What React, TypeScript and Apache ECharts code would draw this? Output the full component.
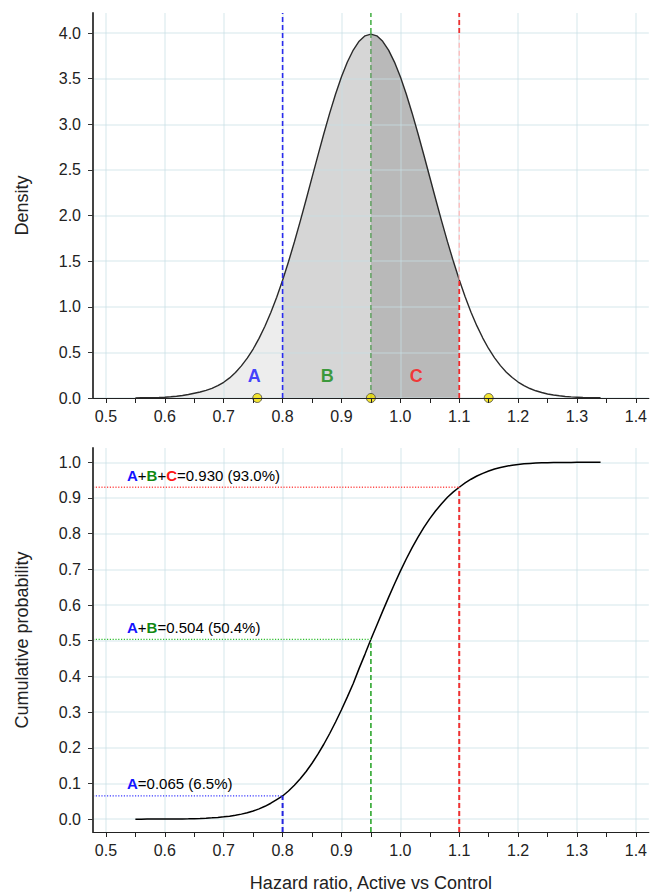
import React, { useEffect, useRef } from "react";
import * as echarts from "echarts";

// ---------- data ----------
const hrValues = [
  0.55, 0.56, 0.57, 0.58, 0.59, 0.6, 0.61, 0.62, 0.63, 0.64,
  0.65, 0.66, 0.67, 0.68, 0.69, 0.7, 0.71, 0.72, 0.73, 0.74,
  0.75, 0.76, 0.77, 0.78, 0.79, 0.8, 0.81, 0.82, 0.83, 0.84,
  0.85, 0.86, 0.87, 0.88, 0.89, 0.9, 0.91, 0.92, 0.93, 0.94,
  0.95, 0.96, 0.97, 0.98, 0.99, 1.0, 1.01, 1.02, 1.03, 1.04,
  1.05, 1.06, 1.07, 1.08, 1.09, 1.1, 1.11, 1.12, 1.13, 1.14,
  1.15, 1.16, 1.17, 1.18, 1.19, 1.2, 1.21, 1.22, 1.23, 1.24,
  1.25, 1.26, 1.27, 1.28, 1.29, 1.3, 1.31, 1.32, 1.33, 1.34,
];

const densityValues = [
  0.001, 0.002, 0.003, 0.004, 0.006, 0.009, 0.013, 0.019, 0.027, 0.038,
  0.052, 0.066, 0.083, 0.105, 0.135, 0.172, 0.22, 0.28, 0.352, 0.437,
  0.537, 0.653, 0.786, 0.937, 1.105, 1.29, 1.493, 1.71, 1.939, 2.176,
  2.418, 2.66, 2.897, 3.123, 3.333, 3.521, 3.683, 3.814, 3.911, 3.97,
  3.989, 3.97, 3.91, 3.813, 3.682, 3.521, 3.332, 3.122, 2.897, 2.661,
  2.42, 2.179, 1.942, 1.714, 1.498, 1.296, 1.11, 0.941, 0.79, 0.657,
  0.54, 0.44, 0.355, 0.283, 0.224, 0.175, 0.136, 0.104, 0.079, 0.06,
  0.044, 0.033, 0.024, 0.017, 0.012, 0.009, 0.006, 0.004, 0.003, 0.002,
];

const cumulativeValues = [
  0.0, 0.0, 0.0001, 0.0001, 0.0002, 0.0002, 0.0003, 0.0005, 0.0007, 0.001,
  0.0014, 0.002, 0.0027, 0.0037, 0.0049, 0.0064, 0.0084, 0.0109, 0.0141, 0.018,
  0.0229, 0.0288, 0.036, 0.0446, 0.0548, 0.065, 0.0789, 0.0949, 0.1131, 0.1337,
  0.1567, 0.1821, 0.2099, 0.24, 0.2723, 0.3066, 0.3426, 0.3801, 0.4225, 0.4625,
  0.504, 0.5435, 0.583, 0.6215, 0.659, 0.695, 0.729, 0.761, 0.7905, 0.8175,
  0.842, 0.864, 0.884, 0.902, 0.917, 0.93, 0.942, 0.9525, 0.9615, 0.969,
  0.9755, 0.981, 0.9855, 0.989, 0.9918, 0.994, 0.9956, 0.9968, 0.9977, 0.9984,
  0.9989, 0.9992, 0.9994, 0.9996, 0.9997, 0.9998, 0.9999, 0.9999, 1.0, 1.0,
];

const regionNames = ["A", "B", "C"];
const regionColors = ["#1414ff", "#128812", "#ff1414"];
const regionStart = 0.55;
const cutPoints = [0.8, 0.95, 1.1];
const cumAtCuts = [0.065, 0.504, 0.93];
const regionLabelX = [0.752, 0.876, 1.027];
const regionLabelY = 0.24;
const dotX = [0.757, 0.95, 1.15];

const xTickValues = [
  0.5, 0.55, 0.6, 0.65, 0.7, 0.75, 0.8, 0.85, 0.9, 0.95,
  1.0, 1.05, 1.1, 1.15, 1.2, 1.25, 1.3, 1.35, 1.4,
];
const xLabelValues = [0.5, 0.6, 0.7, 0.8, 0.9, 1.0, 1.1, 1.2, 1.3, 1.4];
const densityTicks = [0, 0.5, 1.0, 1.5, 2.0, 2.5, 3.0, 3.5, 4.0];
const cumTicks = [0, 0.1, 0.2, 0.3, 0.4, 0.5, 0.6, 0.7, 0.8, 0.9, 1.0];

// ---------- axis extents ----------
const X_MIN = 0.478;
const X_MAX = 1.422;
const D_MIN = 0;
const D_MAX = 4.22;
const C_MIN = -0.036;
const C_MAX = 1.04;

const FONT = "'Liberation Sans', Arial, sans-serif";
const GRID_COLOR = "rgba(200,224,228,0.38)";

function pairs(from: number, to: number, ys: number[]) {
  const out: number[][] = [];
  hrValues.forEach((x, i) => {
    if (x >= from - 1e-9 && x <= to + 1e-9) out.push([x, ys[i]]);
  });
  return out;
}

function densityAt(x: number) {
  const i = hrValues.findIndex((v) => Math.abs(v - x) < 1e-9);
  return densityValues[i];
}

function xAxisCfg(gridIndex: number, withName: boolean) {
  return {
    type: "value",
    gridIndex,
    min: X_MIN,
    max: X_MAX,
    minInterval: 0.05,
    maxInterval: 0.05,
    z: 30,
    name: withName ? "Hazard ratio, Active vs Control" : "",
    nameLocation: "middle",
    nameGap: 42,
    nameTextStyle: { fontSize: 18, color: "#222", fontFamily: FONT },
    axisLine: { show: true, onZero: false, lineStyle: { color: "#222", width: 1.2 } },
    axisTick: {
      show: true,
      length: 5,
      customValues: xTickValues,
      lineStyle: { color: "#222", width: 1 },
    },
    axisLabel: {
      customValues: xLabelValues,
      margin: 10,
      fontSize: 16,
      color: "#222",
      fontFamily: FONT,
      formatter: (v: number) =>
        Math.abs(v * 10 - Math.round(v * 10)) < 1e-6 ? v.toFixed(1) : "",
    },
    splitLine: { show: false },
  };
}

function yAxisCfg(
  gridIndex: number,
  min: number,
  max: number,
  ticks: number[],
  name: string
) {
  return {
    type: "value",
    gridIndex,
    min,
    max,
    z: 30,
    name,
    nameLocation: "middle",
    nameGap: 62,
    nameTextStyle: { fontSize: 18, color: "#222", fontFamily: FONT },
    axisLine: { show: true, onZero: false, lineStyle: { color: "#444", width: 2 } },
    axisTick: {
      show: true,
      length: 5,
      customValues: ticks,
      lineStyle: { color: "#333", width: 1 },
    },
    axisLabel: {
      customValues: ticks,
      margin: 12,
      fontSize: 16,
      color: "#222",
      fontFamily: FONT,
      formatter: (v: number) => v.toFixed(1),
    },
    splitLine: { show: false },
  };
}

function segment(
  gi: number,
  pts: number[][],
  color: string,
  dash: number[],
  width: number,
  z: number
) {
  return {
    type: "line",
    xAxisIndex: gi,
    yAxisIndex: gi,
    data: pts,
    symbol: "none",
    silent: true,
    z,
    lineStyle: { color, width, type: dash },
  };
}

function gridLines(gi: number, yTicks: number[]) {
  return {
    type: "line",
    xAxisIndex: gi,
    yAxisIndex: gi,
    data: [],
    silent: true,
    z: 3,
    markLine: {
      silent: true,
      z: 3,
      symbol: ["none", "none"],
      label: { show: false },
      lineStyle: { color: GRID_COLOR, width: 2, type: "solid" },
      emphasis: { disabled: true },
      data: [
        ...xLabelValues.map((v) => ({ xAxis: v })),
        ...yTicks.map((v) => ({ yAxis: v })),
      ],
    },
  };
}

export default function App() {
  const ref = useRef<HTMLDivElement>(null);

  useEffect(() => {
    if (!ref.current) return;
    const chart = echarts.init(ref.current, undefined, { renderer: "svg" });

    const areaFills = ["#ededed", "#d6d6d6", "#b9b9b9"];
    const bounds = [regionStart, ...cutPoints];

    const series: any[] = [];

    // ---------- top: density ----------
    series.push(gridLines(0, densityTicks));
    regionNames.forEach((_, i) => {
      series.push({
        type: "line",
        xAxisIndex: 0,
        yAxisIndex: 0,
        data: pairs(bounds[i], bounds[i + 1], densityValues),
        symbol: "none",
        silent: true,
        z: 2,
        lineStyle: { width: 0, opacity: 0 },
        areaStyle: { color: areaFills[i], opacity: 1 },
      });
    });
    series.push({
      type: "line",
      xAxisIndex: 0,
      yAxisIndex: 0,
      data: pairs(hrValues[0], hrValues[hrValues.length - 1], densityValues),
      symbol: "none",
      silent: true,
      z: 18,
      lineStyle: { color: "#2a2a2a", width: 1.4 },
    });
    const topDash = [5, 3];
    series.push(segment(0, [[cutPoints[0], D_MIN], [cutPoints[0], D_MAX]], "#2a2aee", topDash, 1.6, 20));
    series.push(segment(0, [[cutPoints[1], D_MIN], [cutPoints[1], 4.0]], "#4e9a4e", topDash, 1.3, 20));
    series.push(segment(0, [[cutPoints[1], 4.0], [cutPoints[1], D_MAX]], "#22a022", topDash, 1.3, 20));
    const dC = densityAt(cutPoints[2]);
    series.push(segment(0, [[cutPoints[2], D_MIN], [cutPoints[2], dC]], "#ee2a2a", topDash, 1.8, 20));
    series.push(segment(0, [[cutPoints[2], dC], [cutPoints[2], 4.0]], "#ffb9b9", topDash, 1.3, 20));
    series.push(segment(0, [[cutPoints[2], 4.0], [cutPoints[2], D_MAX]], "#ee3030", topDash, 1.8, 20));

    series.push({
      type: "scatter",
      xAxisIndex: 0,
      yAxisIndex: 0,
      data: dotX.map((x) => [x, 0]),
      symbol: "circle",
      symbolSize: 9,
      clip: false,
      silent: true,
      z: 22,
      itemStyle: { color: "#f2e000", borderColor: "#444", borderWidth: 1 },
    });
    series.push({
      type: "scatter",
      xAxisIndex: 0,
      yAxisIndex: 0,
      data: regionNames.map((n, i) => ({
        name: n,
        value: [regionLabelX[i], regionLabelY],
        label: { color: regionColors[i] },
      })),
      symbolSize: 0,
      clip: false,
      silent: true,
      z: 24,
      label: {
        show: true,
        position: "inside",
        formatter: (p: any) => p.name,
        fontSize: 18,
        fontWeight: "bold",
        fontFamily: FONT,
        textBorderWidth: 0,
      },
    });

    // ---------- bottom: cumulative ----------
    series.push(gridLines(1, cumTicks));
    series.push({
      type: "line",
      xAxisIndex: 1,
      yAxisIndex: 1,
      data: pairs(hrValues[0], hrValues[hrValues.length - 1], cumulativeValues),
      symbol: "none",
      silent: true,
      z: 18,
      lineStyle: { color: "#000", width: 1.5 },
    });
    const vColors = ["#2424e0", "#1fa01f", "#f03030"];
    const vWidths = [2, 1.5, 2];
    const hColors = ["#3b3bff", "#2fbf2f", "#ff5050"];
    cutPoints.forEach((x, i) => {
      series.push(segment(1, [[x, C_MIN], [x, cumAtCuts[i]]], vColors[i], [5, 3], vWidths[i], 20));
      series.push(segment(1, [[X_MIN, cumAtCuts[i]], [x, cumAtCuts[i]]], hColors[i], [1.2, 1.6], 1.3, 20));
    });

    const rich: any = {};
    regionNames.forEach((n, i) => {
      rich[n] = {
        color: regionColors[i],
        fontWeight: "bold",
        fontSize: 15,
        fontFamily: FONT,
        textBorderWidth: 0,
      };
    });
    series.push({
      type: "scatter",
      xAxisIndex: 1,
      yAxisIndex: 1,
      data: cumAtCuts.map((v, i) => ({
        name:
          regionNames
            .slice(0, i + 1)
            .map((n) => `{${n}|${n}}`)
            .join("+") + `=${v.toFixed(3)} (${(v * 100).toFixed(1)}%)`,
        value: [X_MIN, v],
      })),
      symbolSize: 0,
      clip: false,
      silent: true,
      z: 24,
      label: {
        show: true,
        position: "right",
        distance: 0,
        offset: [34, -12],
        formatter: (p: any) => p.name,
        fontSize: 15,
        color: "#000",
        opacity: 1,
        textBorderWidth: 0,
        fontFamily: FONT,
        rich,
      },
    });

    chart.setOption({
      animation: false,
      backgroundColor: "#fff",
      textStyle: { fontFamily: FONT },
      grid: [
        { left: 93, top: 13, width: 557, height: 385, containLabel: false },
        { left: 93, top: 448, width: 557, height: 385, containLabel: false },
      ],
      xAxis: [xAxisCfg(0, false), xAxisCfg(1, true)],
      yAxis: [
        yAxisCfg(0, D_MIN, D_MAX, densityTicks, "Density"),
        yAxisCfg(1, C_MIN, C_MAX, cumTicks, "Cumulative probability"),
      ],
      series,
    });

    return () => chart.dispose();
  }, []);

  return (
    <div
      ref={ref}
      style={{ position: "fixed", left: 0, top: 0, width: 650, height: 893 }}
    />
  );
}
